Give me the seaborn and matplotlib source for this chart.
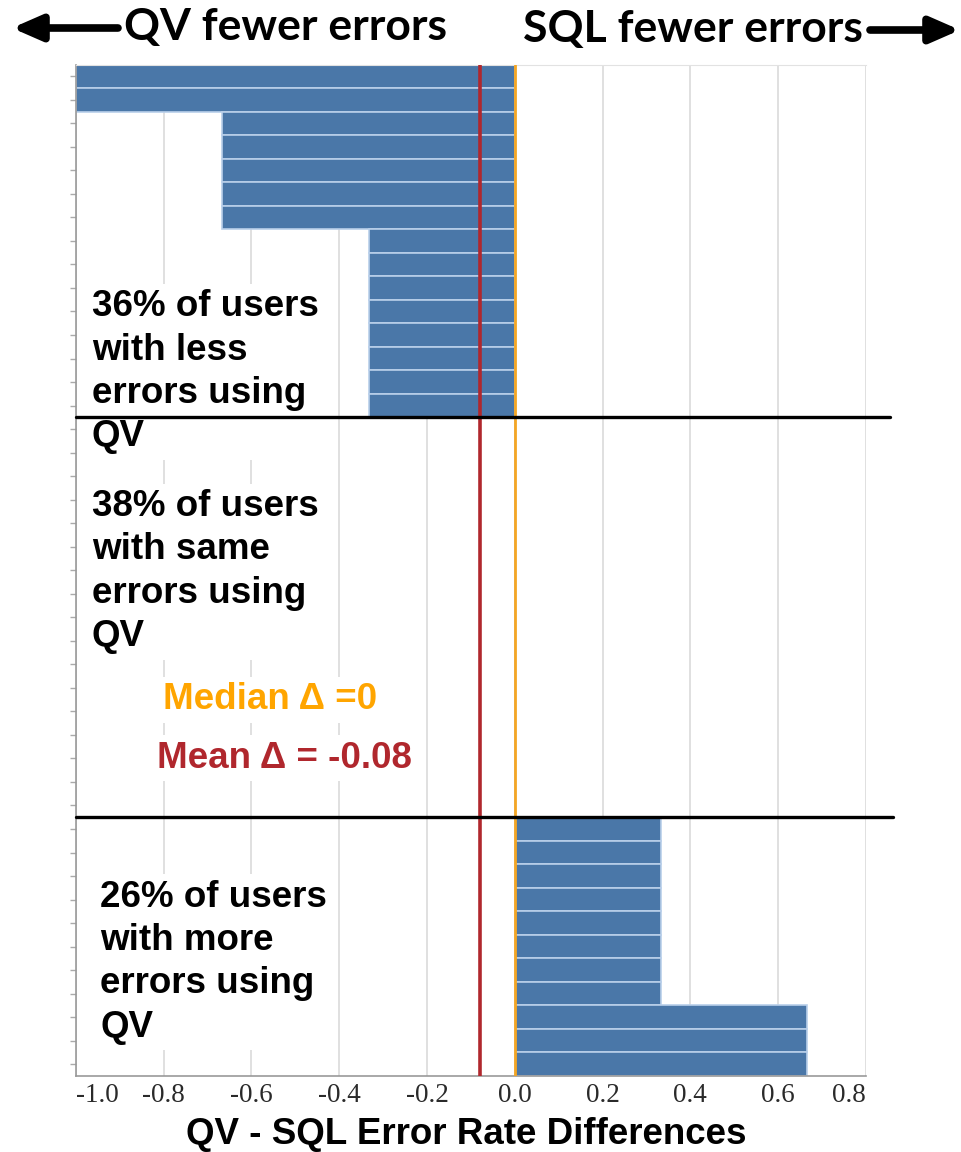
import matplotlib
matplotlib.use("Agg")
import matplotlib.pyplot as plt
import seaborn as sns
import pandas as pd

# per-user QV - SQL error rate differences, top to bottom
diffs = [-1.0, -1.0,
         -0.667, -0.667, -0.667, -0.667, -0.667,
         -0.333, -0.333, -0.333, -0.333, -0.333, -0.333, -0.333, -0.333,
         0, 0, 0, 0, 0, 0, 0, 0, 0, 0, 0, 0, 0, 0, 0, 0, 0,
         0.333, 0.333, 0.333, 0.333, 0.333, 0.333, 0.333, 0.333,
         0.667, 0.667, 0.667]
users = ["u%02d" % i for i in range(len(diffs))]
median_diff = 0.0
mean_diff = -0.08
xticks = [-1.0, -0.8, -0.6, -0.4, -0.2, 0.0, 0.2, 0.4, 0.6, 0.8]

df = pd.DataFrame({"user": users, "diff": diffs})

sns.set_style("white")
fig = plt.figure(figsize=(9.61, 11.52), dpi=100)
ax = fig.add_axes([0.079, 0.066, 0.822, 0.878])

sns.barplot(data=df, x="diff", y="user", orient="h", color="#4a77a8",
            saturation=1, width=1.0, edgecolor="#b9cfea", linewidth=1.2,
            ax=ax, zorder=2)

ax.set_xlim(-1.0, 0.8)
ax.set_ylim(len(diffs) - 0.5, -0.5)
ax.set_xticks(xticks)
ax.set_xticklabels(["%.1f" % v for v in xticks], family="Liberation Serif",
                   fontsize=19.5, color="#2a2a2a")
tl = ax.get_xticklabels()
tl[0].set_ha("left")
tl[-1].set_ha("right")
ax.set_yticklabels([])
ax.tick_params(axis="x", length=0, pad=5)
ax.tick_params(axis="y", length=4, color="#aaaaaa", width=1, left=True)
ax.xaxis.grid(True, color="#dddddd", linewidth=1.3, zorder=0)
ax.set_axisbelow(True)
ax.set_xlabel("")
ax.set_ylabel("")
for s in ["left", "bottom"]:
    ax.spines[s].set_color("#999999")
    ax.spines[s].set_linewidth(1.2)
ax.spines["top"].set_color("#e2e2e2")
ax.spines["right"].set_visible(False)

# median / mean
ax.axvline(mean_diff, color="#b0272d", linewidth=2.6, zorder=4)
ax.axvline(median_diff, color="#f5a623", linewidth=2, zorder=4)

# group separators
ax.axhline(14.5, xmin=0, xmax=1.03, color="black", linewidth=2.4, clip_on=False, zorder=5)
ax.axhline(31.5, xmin=0, xmax=1.034, color="black", linewidth=2.4, clip_on=False, zorder=5)

tkw = dict(fontsize=26.5, fontweight="bold", family="Liberation Sans",
           linespacing=1.31, zorder=3)
box = dict(facecolor="white", edgecolor="none", pad=4)
ax.text(-0.964, 9.05, "36% of users\nwith less\nerrors using\nQV", va="top",
        ha="left", color="black", bbox=box, **tkw)
ax.text(-0.964, 17.55, "38% of users\nwith same\nerrors using\nQV", va="top",
        ha="left", color="black", bbox=box, **tkw)
ax.text(-0.945, 34.15, "26% of users\nwith more\nerrors using\nQV", va="top",
        ha="left", color="black", bbox=box, **tkw)
ax.text(-0.558, 26.5, "Median Δ =0", va="center", ha="center", color="#ffa500",
        bbox=box, **tkw)
ax.text(-0.524, 29.0, "Mean Δ = -0.08", va="center", ha="center", color="#b0272d",
        bbox=box, **tkw)

# direction headers
fig.text(0.2976, 0.9766, "QV fewer errors", ha="center", va="center",
         fontsize=32, fontweight="bold", family="Lato", color="black")
fig.text(0.721, 0.975, "SQL fewer errors", ha="center", va="center",
         fontsize=32, fontweight="bold", family="Lato", color="black")
arw = dict(arrowstyle="-|>,head_length=0.8,head_width=0.35", lw=5.5, color="black",
           shrinkA=0, shrinkB=0, mutation_scale=22)
fig.add_artist(plt.Annotation("", xy=(12, 1152 - 28), xytext=(118, 1152 - 28),
                              xycoords="figure pixels", textcoords="figure pixels",
                              arrowprops=arw))
fig.add_artist(plt.Annotation("", xy=(960, 1152 - 30), xytext=(870, 1152 - 30),
                              xycoords="figure pixels", textcoords="figure pixels",
                              arrowprops=arw))

fig.text(0.485, 0.0148, "QV - SQL Error Rate Differences", ha="center", va="center",
         fontsize=26.5, fontweight="bold", family="Liberation Sans", color="black")

fig.savefig("out.png", dpi=100)
